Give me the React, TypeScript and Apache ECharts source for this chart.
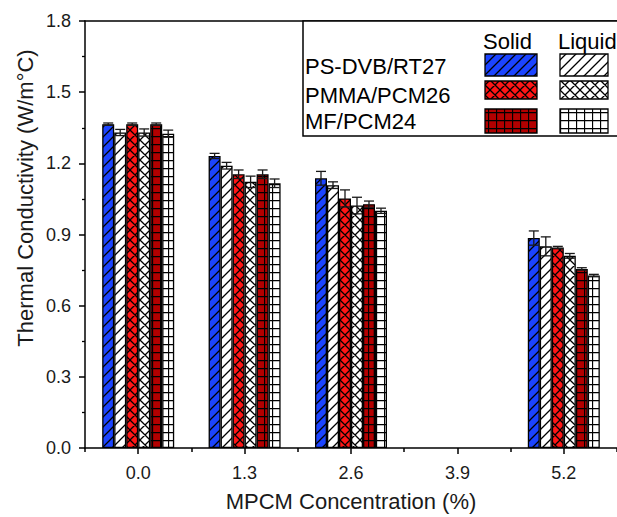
import React, { useEffect, useRef } from 'react';
import * as echarts from 'echarts';

const categories = ['0.0', '1.3', '2.6', '3.9', '5.2'];
const groupNames = ['PS-DVB/RT27', 'PMMA/PCM26', 'MF/PCM24'];
const phaseNames = ['Solid', 'Liquid'];

const psdvbSolid = [1.365, 1.231, 1.137, null, 0.885];
const psdvbLiquid = [1.33, 1.19, 1.108, null, 0.85];
const pmmaSolid = [1.365, 1.154, 1.052, null, 0.845];
const pmmaLiquid = [1.33, 1.122, 1.022, null, 0.81];
const mfSolid = [1.365, 1.154, 1.028, null, 0.755];
const mfLiquid = [1.325, 1.116, 1.0, null, 0.727];

const psdvbSolidErr = [0.005, 0.011, 0.029, null, 0.03];
const psdvbLiquidErr = [0.013, 0.014, 0.014, null, 0.04];
const pmmaSolidErr = [0.005, 0.018, 0.036, null, 0.005];
const pmmaLiquidErr = [0.015, 0.024, 0.035, null, 0.01];
const mfSolidErr = [0.005, 0.018, 0.013, null, 0.005];
const mfLiquidErr = [0.015, 0.018, 0.011, null, 0.005];

const seriesValues = [psdvbSolid, psdvbLiquid, pmmaSolid, pmmaLiquid, mfSolid, mfLiquid];
const seriesErrors = [psdvbSolidErr, psdvbLiquidErr, pmmaSolidErr, pmmaLiquidErr, mfSolidErr, mfLiquidErr];

const yTitle = 'Thermal Conductivity (W/m°C)';
const xTitle = 'MPCM Concentration (%)';

const FONT = '"Liberation Sans", Arial, Helvetica, sans-serif';

function makePattern(bg: string, kind: 'diag' | 'cross' | 'grid') {
  const size = kind === 'grid' ? 8 : 10;
  const c = document.createElement('canvas');
  c.width = size;
  c.height = size;
  const ctx = c.getContext('2d')!;
  ctx.fillStyle = bg;
  ctx.fillRect(0, 0, size, size);
  ctx.strokeStyle = '#000';
  ctx.lineWidth = 1.3;
  ctx.beginPath();
  if (kind === 'diag' || kind === 'cross') {
    ctx.moveTo(-1, size + 1);
    ctx.lineTo(size + 1, -1);
    ctx.moveTo(-2, 2);
    ctx.lineTo(2, -2);
    ctx.moveTo(size - 2, size + 2);
    ctx.lineTo(size + 2, size - 2);
  }
  if (kind === 'cross') {
    ctx.moveTo(-1, -1);
    ctx.lineTo(size + 1, size + 1);
    ctx.moveTo(size - 2, -2);
    ctx.lineTo(size + 2, 2);
    ctx.moveTo(-2, size - 2);
    ctx.lineTo(2, size + 2);
  }
  if (kind === 'grid') {
    ctx.moveTo(0.5, 0);
    ctx.lineTo(0.5, size);
    ctx.moveTo(0, 0.5);
    ctx.lineTo(size, 0.5);
  }
  ctx.stroke();
  return { image: c, repeat: 'repeat', imageWidth: size, imageHeight: size };
}

export default function App() {
  const ref = useRef<HTMLDivElement>(null);
  useEffect(() => {
    if (!ref.current) return;
    const chart = echarts.init(ref.current, null, { renderer: 'svg' });

    const BLUE = '#1c44ff';
    const RED = '#ff1616';
    const DARK = '#b30000';
    const patterns = [
      makePattern(BLUE, 'diag'),
      makePattern('#ffffff', 'diag'),
      makePattern(RED, 'cross'),
      makePattern('#ffffff', 'cross'),
      makePattern(DARK, 'grid'),
      makePattern('#ffffff', 'grid'),
    ];

    const barW = 12;
    const barSeries = seriesValues.map((vals, k) => ({
      type: 'bar',
      name: groupNames[Math.floor(k / 2)] + ' ' + phaseNames[k % 2],
      xAxisIndex: 0,
      barWidth: barW,
      barGap: '0%',
      data: vals.map((v) => (v == null ? '-' : v)),
      itemStyle: {
        color: patterns[k],
        borderColor: '#000',
        borderWidth: 1.3,
      },
      z: 2,
    }));

    const errData: any[] = [];
    seriesValues.forEach((vals, k) => {
      vals.forEach((v, i) => {
        const e = seriesErrors[k][i];
        if (v != null && e != null) errData.push([i, v, e, k]);
      });
    });

    const errSeries = {
      type: 'custom',
      xAxisIndex: 0,
      z: 5,
      encode: { x: 0, y: 1 },
      data: errData,
      renderItem: (params: any, api: any) => {
        const i = api.value(0);
        const v = api.value(1);
        const e = api.value(2);
        const k = api.value(3);
        const top = api.coord([i, v + e]);
        const bot = api.coord([i, v - e]);
        const x = top[0] + (k - 2.5) * barW;
        const hw = 5;
        const style = { stroke: '#1a1a1a', lineWidth: 1.3, fill: 'none' };
        return {
          type: 'group',
          children: [
            { type: 'line', shape: { x1: x, y1: top[1], x2: x, y2: bot[1] }, style },
            { type: 'line', shape: { x1: x - hw, y1: top[1], x2: x + hw, y2: top[1] }, style },
            { type: 'line', shape: { x1: x - hw, y1: bot[1], x2: x + hw, y2: bot[1] }, style },
          ],
        };
      },
    };

    const legendRowsY = [66, 95, 121];
    const swatchY = [54, 81, 109];
    const swatchH = [22, 18, 24];
    const graphicEls: any[] = [
      {
        type: 'rect',
        shape: { x: 303, y: 21, width: 400, height: 115 },
        style: { fill: '#fff', stroke: '#000', lineWidth: 1.5 },
        z: 10,
      },
      {
        type: 'text',
        x: 483,
        y: 41,
        style: { text: phaseNames[0], font: `22px ${FONT}`, fill: '#000', textVerticalAlign: 'middle', verticalAlign: 'middle' },
        z: 11,
      },
      {
        type: 'text',
        x: 558,
        y: 41,
        style: { text: phaseNames[1], font: `22px ${FONT}`, fill: '#000', textVerticalAlign: 'middle', verticalAlign: 'middle' },
        z: 11,
      },
      {
        type: 'text',
        x: 25,
        y: 198,
        rotation: Math.PI / 2,
        style: { text: yTitle, font: `22px ${FONT}`, fill: '#1a1a1a', align: 'center', verticalAlign: 'middle' },
      },
    ];
    groupNames.forEach((g, r) => {
      graphicEls.push({
        type: 'text',
        x: 305,
        y: legendRowsY[r],
        style: { text: g, font: `22px ${FONT}`, fill: '#000', verticalAlign: 'middle' },
        z: 11,
      });
      graphicEls.push({
        type: 'rect',
        shape: { x: 485, y: swatchY[r], width: 52, height: swatchH[r] },
        style: { fill: patterns[r * 2], stroke: '#000', lineWidth: 1.3 },
        z: 11,
      });
      graphicEls.push({
        type: 'rect',
        shape: { x: 560, y: swatchY[r], width: 48, height: swatchH[r] },
        style: { fill: patterns[r * 2 + 1], stroke: '#000', lineWidth: 1.3 },
        z: 11,
      });
    });

    chart.setOption({
      animation: false,
      backgroundColor: '#fff',
      grid: { left: 85, right: -9, top: 21, bottom: 67, containLabel: false },
      xAxis: [
        {
          type: 'category',
          data: categories,
          position: 'bottom',
          boundaryGap: true,
          axisLine: { show: true, lineStyle: { color: '#000', width: 1.5 } },
          axisTick: { show: true, alignWithLabel: true, length: 6, lineStyle: { color: '#000', width: 1.5 } },
          axisLabel: { fontSize: 18, color: '#1a1a1a', margin: 16, fontFamily: FONT },
          splitLine: { show: false },
          name: xTitle,
          nameLocation: 'middle',
          nameGap: 42,
          nameTextStyle: { fontSize: 22, color: '#1a1a1a', fontFamily: FONT },
        },
        {
          type: 'category',
          data: categories,
          position: 'bottom',
          boundaryGap: true,
          axisLine: { show: false },
          axisTick: { show: true, alignWithLabel: false, length: 4, lineStyle: { color: '#000', width: 1.5 } },
          axisLabel: { show: false },
          splitLine: { show: false },
        },
        {
          type: 'category',
          data: categories,
          position: 'top',
          axisLine: { show: true, lineStyle: { color: '#000', width: 1.5 } },
          axisTick: { show: false },
          axisLabel: { show: false },
          splitLine: { show: false },
        },
      ],
      yAxis: {
        type: 'value',
        min: 0,
        max: 1.8,
        interval: 0.3,
        axisLine: { show: true, lineStyle: { color: '#000', width: 1.5 } },
        axisTick: { show: true, length: 6, lineStyle: { color: '#000', width: 1.5 } },
        minorTick: { show: true, splitNumber: 2, length: 3, lineStyle: { color: '#000', width: 1.3 } },
        axisLabel: {
          fontSize: 18,
          color: '#1a1a1a',
          margin: 14,
          fontFamily: FONT,
          formatter: (v: number) => v.toFixed(1),
        },
        splitLine: { show: false },
      },
      series: [...barSeries, errSeries],
      graphic: graphicEls,
    } as any);

    return () => chart.dispose();
  }, []);

  return (
    <div
      ref={ref}
      style={{ position: 'fixed', left: 0, top: 0, width: 617, height: 517, background: '#fff' }}
    />
  );
}
